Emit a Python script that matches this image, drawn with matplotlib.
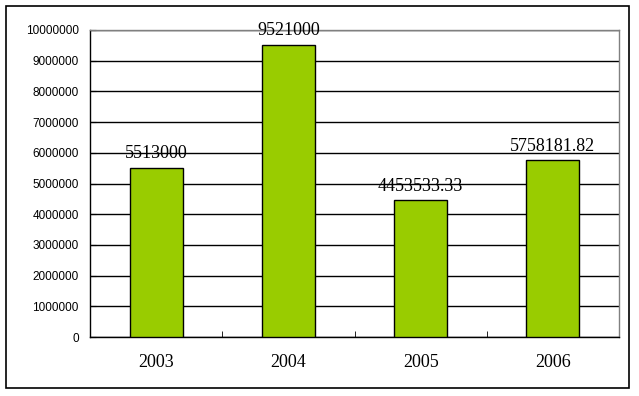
import numpy as np
import matplotlib.pyplot as plt
from matplotlib.patches import Rectangle

years = ['2003', '2004', '2005', '2006']
values = [5513000, 9521000, 4453533.33, 5758181.82]
labels = ['5513000', '9521000', '4453533.33', '5758181.82']
yticks = np.arange(0, 10000001, 1000000)

fig = plt.figure(figsize=(6.39, 3.96), dpi=100)
ax = fig.add_axes([90/639, 59/396, 529/639, 307/396])

# outer frame like the excel chart area
fig.patches.append(Rectangle((6/639, 8/396), 623/639, 382/396, transform=fig.transFigure,
                             fill=False, edgecolor='black', linewidth=1.2))

x = np.arange(len(years))
ax.bar(x, values, width=0.4, color='#99CC00', edgecolor='black', linewidth=1, zorder=3)
for xi, v, t in zip(x, values, labels):
    ax.text(xi, v + 180000, t, ha='center', va='bottom', fontsize=13,
            family='Liberation Serif', zorder=4)

ax.set_xlim(-0.5, 3.5)
ax.set_ylim(0, 10000000)
ax.set_yticks(yticks)
ax.set_yticklabels([str(t) for t in yticks], fontsize=8.5, family='Liberation Sans')
ax.yaxis.grid(True, color='black', linewidth=1, zorder=0)
ax.set_axisbelow(True)

ax.set_xticks(x)
ax.set_xticklabels(years, fontsize=13, family='Liberation Serif')
ax.set_xticks([0.5, 1.5, 2.5], minor=True)
ax.tick_params(axis='x', which='major', length=0, pad=12)
ax.tick_params(axis='x', which='minor', direction='in', length=4, color='black')
ax.tick_params(axis='y', direction='in', length=4, pad=8)

ax.spines['top'].set_color('#808080')
ax.spines['right'].set_color('#808080')
ax.spines['left'].set_color('black')
ax.spines['bottom'].set_color('black')
for s in ax.spines.values():
    s.set_linewidth(1)

plt.savefig('out.png', dpi=100)
